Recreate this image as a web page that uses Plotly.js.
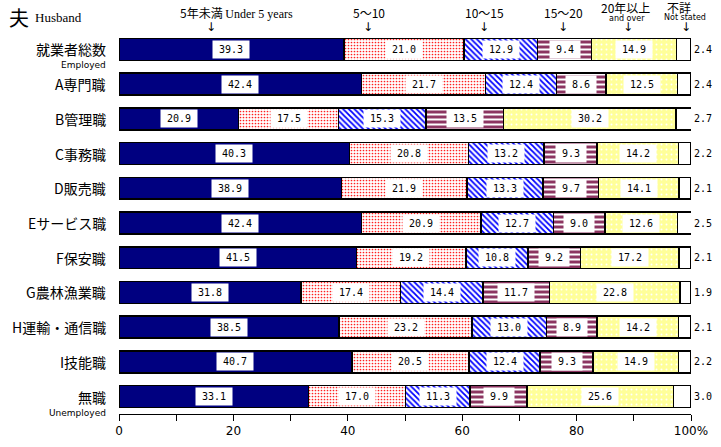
<!DOCTYPE html>
<html><head><meta charset="utf-8">
<script src="https://cdn.plot.ly/plotly-3.0.1.min.js"></script>
<style>body{margin:0;background:#fff;overflow:hidden}#c{width:721px;height:447px}</style>
</head><body><div id="c"></div>
<script>
const categories = ["就業者総数","A専門職","B管理職","C事務職","D販売職","Eサービス職","F保安職","G農林漁業職","H運輸・通信職","I技能職","無職"];
const subLabels = ["Employed","","","","","","","","","","Unemployed"];
const seriesNames = ["5年未満","5～10","10～15","15～20","20年以上","不詳"];
const under5   = [39.3,42.4,20.9,40.3,38.9,42.4,41.5,31.8,38.5,40.7,33.1];
const y5to10   = [21.0,21.7,17.5,20.8,21.9,20.9,19.2,17.4,23.2,20.5,17.0];
const y10to15  = [12.9,12.4,15.3,13.2,13.3,12.7,10.8,14.4,13.0,12.4,11.3];
const y15to20  = [9.4,8.6,13.5,9.3,9.7,9.0,9.2,11.7,8.9,9.3,9.9];
const y20over  = [14.9,12.5,30.2,14.2,14.1,12.6,17.2,22.8,14.2,14.9,25.6];
const notStated= [2.4,2.4,2.7,2.2,2.1,2.5,2.1,1.9,2.1,2.2,3.0];
const xTickVals = [0,10,20,30,40,50,60,70,80,90,100];
const xTickText = ["0","","20","","40","","60","","80","","100%"];

const series = [under5,y5to10,y10to15,y15to20,y20over,notStated];
const styles = [
  {color:"#000080"},
  {color:"#ffffff", pattern:{shape:".", fgcolor:"#ff2020", bgcolor:"#ffffff", size:3, solidity:0.25}},
  {color:"#ffffff", pattern:{shape:"\\", fgcolor:"#0000ff", bgcolor:"#ffffff", size:4, solidity:0.45}},
  {color:"#8c3561", pattern:{shape:"-", fgcolor:"#ffffff", bgcolor:"#8c3561", size:5, solidity:0.4}},
  {color:"#ffff99", pattern:{shape:".", fgcolor:"#ffffff", bgcolor:"#ffff99", size:5, solidity:0.12}},
  {color:"#ffffff"}
];
const idx = categories.map((_,i)=>i);
const traces = series.map((vals,k)=>({
  type:"bar", orientation:"h", x:vals, y:idx, name:seriesNames[k], width:0.63,
  marker:Object.assign({line:{color:"#000",width:1.5}}, styles[k]),
  hoverinfo:"x", showlegend:false
}));

const L = 119, R = 30, T = 32, B = 33, W = 721, H = 447;
const pw = W - L - R, ph = H - T - B;
const py = p => (H - B - p) / ph;
const pxp = p => (p - L) / pw;
const mono = {family:"DejaVu Sans Mono", size:10, color:"#000"};
const cjk = "Noto Sans CJK JP";
const ann = [];
categories.forEach((c,i)=>{
  ann.push({xref:"paper", yref:"y", x:0, y:i, xanchor:"right", xshift:-11, text:c, showarrow:false,
    font:{family:cjk, size:14, color:"#000"}});
  if(subLabels[i]) ann.push({xref:"paper", yref:"y", x:0, y:i, xanchor:"right", yanchor:"middle", xshift:-11, yshift:-16, text:subLabels[i], showarrow:false,
    font:{family:"DejaVu Sans", size:9, color:"#000"}});
  let cum = 0;
  for(let k=0;k<5;k++){
    const v = series[k][i];
    const s = v.toFixed(1);
    ann.push({xref:"x", yref:"y", x:cum+v/2, y:i, text:s, showarrow:false, bgcolor:"#fff",
      width:s.length*6+12, height:17, borderpad:0, font:mono});
    cum += v;
  }
  ann.push({xref:"paper", yref:"y", x:1, y:i, xanchor:"left", xshift:1, text:notStated[i].toFixed(1), showarrow:false, font:mono});
});
// headers (pixel positions converted to paper coords)
const hdr = (xp, yp, text, font, xanchor) => ann.push({xref:"paper", yref:"paper", x:pxp(xp), y:py(yp),
  xanchor:xanchor||"center", yanchor:"middle", text, showarrow:false, font});
hdr(7, 18, "夫", {family:cjk, size:20, color:"#000"}, "left");
hdr(33, 18, "Husband", {family:"Liberation Serif", size:13, color:"#000"}, "left");
const heads = [[236,"5年未満 <span style='font-family:Liberation Serif'>Under 5 years</span>",12,211],
  [369,"5～10",12,368],[484,"10～15",12,484],[563,"15～20",12,563],[625,"20年以上",8,628],[679,"不詳",7,686]];
heads.forEach(h=>{
  hdr(h[0], h[2], h[1], {family:cjk, size:12, color:"#000"});
  hdr(h[3], 27, "↓", {family:"DejaVu Sans", size:12, color:"#000"});
});
hdr(627, 19, "and over", {family:"DejaVu Sans", size:8, color:"#000"});
hdr(685, 18, "Not stated", {family:"DejaVu Sans", size:8, color:"#000"});

const layout = {
  width:W, height:H, margin:{l:L, r:R, t:T, b:B, autoexpand:false},
  paper_bgcolor:"#fff", plot_bgcolor:"#fff", barmode:"stack",
  xaxis:{range:[0,100], tickvals:xTickVals, ticktext:xTickText, ticks:"outside", ticklen:6, tickcolor:"#000",
    showline:true, linecolor:"#000", linewidth:1, showgrid:false, zeroline:false, automargin:false,
    tickfont:{family:"DejaVu Sans", size:12, color:"#000"}, fixedrange:true},
  yaxis:{range:[10.5,-0.5], showticklabels:false, ticks:"", showgrid:false, zeroline:false, showline:false, automargin:false, fixedrange:true},
  annotations:ann, font:{family:cjk}
};
Plotly.newPlot("c", traces, layout, {staticPlot:true, displayModeBar:false});
</script></body></html>
